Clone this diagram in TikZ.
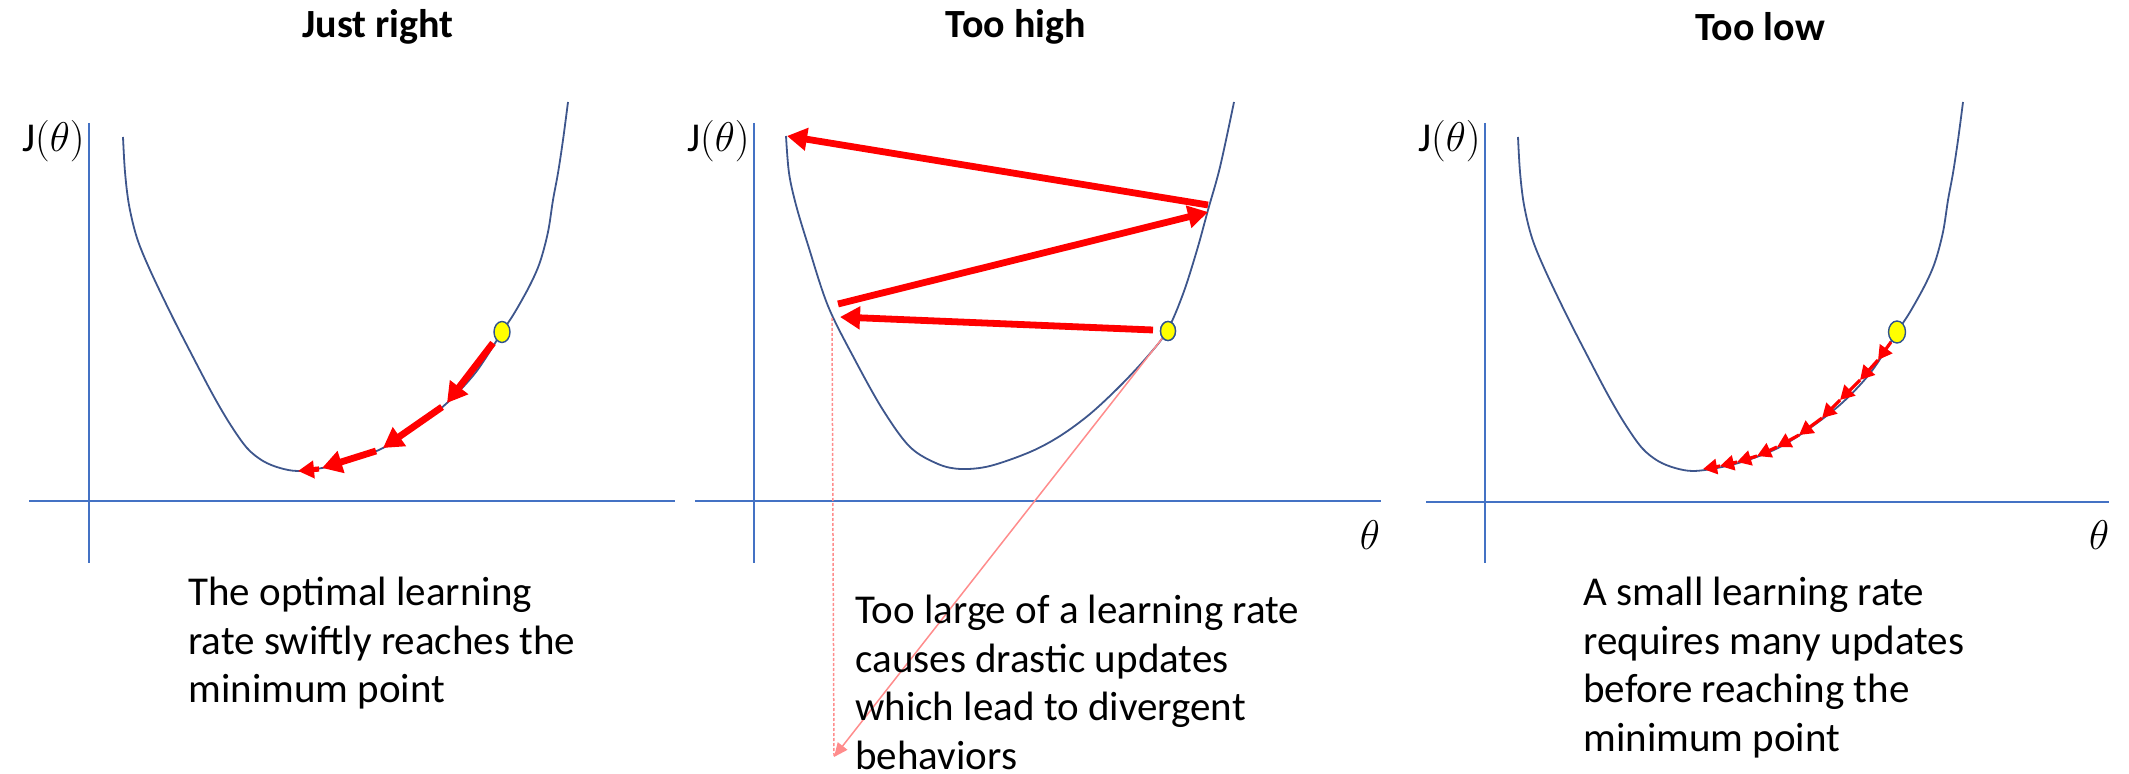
\documentclass[tikz,border=0pt]{standalone}
\usepackage{fontspec}
\setmainfont{Carlito}
\usetikzlibrary{arrows.meta,positioning,shapes.geometric}

\definecolor{axisblue}{RGB}{68,114,196}
\definecolor{curveblue}{RGB}{62,86,140}
\definecolor{stepred}{RGB}{255,0,0}
\definecolor{dotyellow}{RGB}{255,255,0}
\definecolor{dotrim}{RGB}{47,82,143}
\definecolor{pinkline}{RGB}{255,140,140}

\begin{document}
\begin{tikzpicture}[x=0.5pt, y=-0.5pt,
    % --- Text styles ---
    title/.style={font=\fontsize{20}{24}\selectfont\bfseries, inner sep=0pt},
    caption/.style={font=\fontsize{20.5}{24.25}\selectfont, align=left,
                    anchor=north west, inner sep=0pt},
    ylab/.style={font=\fontsize{20.5}{24}\selectfont, anchor=east, inner sep=0pt},
    xlab/.style={font=\fontsize{20.5}{24}\selectfont, inner sep=0pt},
    % --- Line styles ---
    axis/.style={draw=axisblue, line width=1.2pt},
    costcurve/.style={draw=curveblue, line width=0.9pt},
    ballpt/.style={ellipse, draw=dotrim, fill=dotyellow, line width=0.7pt,
                   minimum width=8pt, minimum height=10.5pt, inner sep=0pt},
    guide/.style={draw=pinkline, line width=0.75pt},
    % --- Arrow styles ---
    bigstep/.style={draw=stepred, line width=3.4pt,
                    -{Triangle[length=10pt, width=11pt]}},
    smallstep/.style={draw=stepred, line width=1.6pt,
                      -{Triangle[length=7pt, width=7.5pt]}},
]
\useasboundingbox (0,0) rectangle (2129,774);

% === Titles ===
\node[title] (tRight) at (378,27)  {Just right};
\node[title] (tHigh)  at (1016,27) {Too high};
\node[title] (tLow)   at (1760,27) {Too low};

% === Axes ===
\draw[axis] (29,501) -- (675,501);
\draw[axis] (89,123) -- (89,563);
\draw[axis] (695,501) -- (1381,501);
\draw[axis] (754,123) -- (754,563);
\draw[axis] (1426,502) -- (2109,502);
\draw[axis] (1485,123) -- (1485,563);

\node[ylab] (jRight) at (85,141)   {J$(\theta)$};
\node[ylab] (jHigh)  at (750,141)  {J$(\theta)$};
\node[ylab] (jLow)   at (1481,141) {J$(\theta)$};
\node[xlab] (thHigh) at (1370,535) {$\theta$};
\node[xlab] (thLow)  at (2099,535) {$\theta$};

% === Cost curves ===
\draw[costcurve] plot[smooth, tension=0.55] coordinates {
  (123,137) (125,172) (129,205) (137,238) (150,270) (172,316) (193,357)
  (213,395) (230,424) (247,448) (263,461) (280,468) (298,471) (322,468)
  (350,461) (383,448) (415,428) (447,403) (476,372) (502,332) (515,312)
  (530,285) (540,262) (548,232) (553,200) (558,173) (563,140) (568,102)};
\draw[costcurve] plot[smooth, tension=0.55] coordinates {
  (786,136) (789,173) (796,205) (808,245) (828,306) (855,360) (883,410)
  (910,447) (938,464) (961,469) (990,466) (1030,452) (1060,436)
  (1090,414) (1120,386) (1147,357) (1167,331) (1183,294) (1197,250)
  (1208,210) (1220,167) (1234,102)};
\begin{scope}[shift={(1395,0)}]
\draw[costcurve] plot[smooth, tension=0.55] coordinates {
  (123,137) (125,172) (129,205) (137,238) (150,270) (172,316) (193,357)
  (213,395) (230,424) (247,448) (263,461) (280,468) (298,471) (322,468)
  (350,461) (383,448) (415,428) (447,403) (476,372) (502,332) (515,312)
  (530,285) (540,262) (548,232) (553,200) (558,173) (563,140) (568,102)};
\end{scope}

% === Just right: a few steps ===
\coordinate (a0) at (493,343);
\coordinate (a1) at (447,403);
\coordinate (a1b) at (442,407);
\coordinate (a2) at (383,448);
\coordinate (a2b) at (376,451);
\coordinate (a3) at (322,468);
\coordinate (a3b) at (319,469);
\coordinate (a4) at (298,471);
\draw[bigstep] (a0) -- (a1);
\draw[bigstep] (a1b) -- (a2);
\draw[bigstep] (a2b) -- (a3);
\draw[bigstep, line width=2.6pt, -{Triangle[length=8pt, width=8.5pt]}] (a3b) -- (a4);
\node[ballpt] (dotRight) at (502,332) {};

% === Too high: the guides below ===
\coordinate (dropTop) at (832,318);
\coordinate (dropEnd) at (834,757);
\node[ballpt, minimum width=7.5pt, minimum height=9.5pt] (dotHigh) at (1168,331) {};
\draw[guide, dash pattern=on 1.5pt off 1pt] (dropTop) -- (dropEnd);
\draw[guide, -{Triangle[length=7pt, width=6pt]}] (dotHigh) -- (dropEnd);

% === Too high: steps bounce out ===
\coordinate (b0) at (1153,330);
\coordinate (b1) at (840,317);
\coordinate (b2) at (838,304);
\coordinate (b3) at (1208,212);
\coordinate (b4) at (1208,205);
\coordinate (b5) at (787,136);
\draw[bigstep] (b0) -- (b1);
\draw[bigstep] (b2) -- (b3);
\draw[bigstep] (b4) -- (b5);
\node[ballpt, minimum width=7.5pt, minimum height=9.5pt] at (1168,331) {};

% === Too low: many tiny steps ===
\coordinate (s0) at (1891,342);
\coordinate (s1) at (1878,360);
\coordinate (s2) at (1860,380);
\coordinate (s3) at (1840,400);
\coordinate (s4) at (1822,418);
\coordinate (s5) at (1799,435);
\coordinate (s6) at (1777,447);
\coordinate (s7) at (1757,456);
\coordinate (s8) at (1737,462);
\coordinate (s9) at (1720,466);
\coordinate (s10) at (1703,469);
\draw[smallstep] (s0) -- (s1);
\draw[smallstep] (s1) -- (s2);
\draw[smallstep] (s2) -- (s3);
\draw[smallstep] (s3) -- (s4);
\draw[smallstep] (s4) -- (s5);
\draw[smallstep] (s5) -- (s6);
\draw[smallstep] (s6) -- (s7);
\draw[smallstep] (s7) -- (s8);
\draw[smallstep] (s8) -- (s9);
\draw[smallstep] (s9) -- (s10);
\node[ballpt, minimum width=8.5pt, minimum height=11pt] (dotLow) at (1897,332) {};

% === Captions ===
\node[caption] (cRight) at (188,577)
  {The optimal learning\\rate swiftly reaches the\\minimum point};
\node[caption] (cHigh) at (855,595)
  {Too large of a learning rate\\causes drastic updates\\which lead to divergent\\behaviors};
\node[caption] (cLow) at (1583,577)
  {A small learning rate\\requires many updates\\before reaching the\\minimum point};

\end{tikzpicture}
\end{document}
